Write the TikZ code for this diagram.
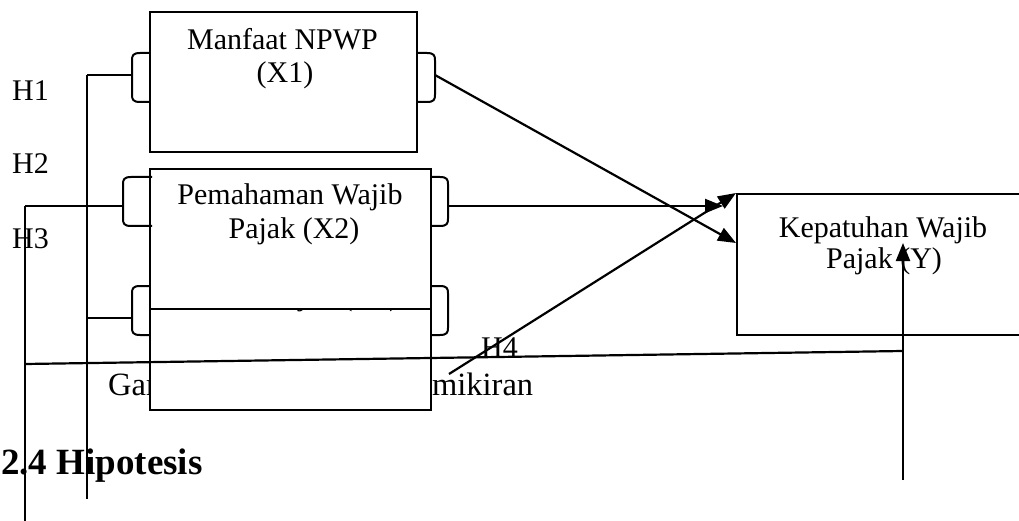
\documentclass[tikz,border=0pt]{standalone}
\usepackage{fontspec}
\setmainfont{Liberation Serif}
\usetikzlibrary{arrows.meta}

\tikzset{
  varbox/.style={draw, fill=white, line width=2.2pt, inner sep=0pt},
  lbl/.style={font=\fontsize{30}{34}\selectfont, inner sep=0pt, anchor=base},
  hlbl/.style={font=\fontsize{30}{34}\selectfont, inner sep=0pt, anchor=base west},
  wire/.style={line width=2.2pt},
  arr/.style={wire, -{Triangle[length=18pt,width=14pt]}},
  pics/cup/.style={code={
    \draw[line width=2pt] (0,-24.5) -- (-#1+8,-24.5)
      .. controls (-#1+1,-24.5) and (-#1,-22) .. (-#1,-17)
      -- (-#1,17) .. controls (-#1,22) and (-#1+1,24.5) .. (-#1+8,24.5) -- (0,24.5);
  }},
}

\begin{document}
\begin{tikzpicture}[x=1pt,y=-1pt]
\useasboundingbox (0,0) rectangle (1019,521);

% caption partly hidden behind the lower box
\node[hlbl, font=\fontsize{32.5}{36}\selectfont] (cap) at (108,395) {\makebox[425pt][s]{Gambar 2.1 Kerangka Pemikiran}};

% variable boxes
\node[varbox, anchor=north west, minimum width=281pt, minimum height=142pt] (x3) at (149,267) {};
\node[lbl] (x3t) at (290,305) {Sanksi Pajak (X3)};

\node[varbox, anchor=north west, minimum width=281pt, minimum height=140pt] (x2) at (149,168) {};
\node[lbl] (x2a) at (290,205) {Pemahaman Wajib};
\node[lbl] (x2b) at (294,239) {Pajak (X2)};

\node[varbox, anchor=north west, minimum width=267pt, minimum height=140pt] (x1) at (149,11) {};
\node[lbl] (x1a) at (282.5,50) {Manfaat NPWP};
\node[lbl] (x1b) at (285,83) {(X1)};

\node[varbox, anchor=north west, minimum width=320pt, minimum height=141pt] (yv) at (736,193) {};
\node[lbl] (ya) at (883,237) {Kepatuhan Wajib};
\node[lbl] (yb) at (884,269) {Pajak (Y)};

% connector cups on the box sides
\pic at (149,77.5) {cup=17};
\pic[xscale=-1] at (416,77.5) {cup=19};
\pic at (152,201.5) {cup=29};
\pic[xscale=-1] at (430,201.5) {cup=18};
\pic at (150,310.5) {cup=18};
\pic[xscale=-1] at (430,310.5) {cup=18};

% ports and line ends
\coordinate (x1L) at (132,75);
\coordinate (x1R) at (435,75);
\coordinate (x2L) at (123,206);
\coordinate (x2R) at (448,206);
\coordinate (x3L) at (132,318);
\coordinate (busA) at (87,75);
\coordinate (busAend) at (87,499);
\coordinate (busA3) at (87,318);
\coordinate (busB) at (25,206);
\coordinate (busBend) at (25,521);
\coordinate (busB4) at (25,364);
\coordinate (h4s) at (449,374);
\coordinate (yin1) at (736,243);
\coordinate (yin2) at (723,206);
\coordinate (upS) at (903,480);
\coordinate (upM) at (903,351);
\coordinate (upT) at (903,243);

% left collector lines
\draw[wire] (busA) -- (busAend);
\draw[wire] (busA) -- (x1L);
\draw[wire] (busA3) -- (x3L);
\draw[wire] (busB) -- (busBend);
\draw[wire] (busB) -- (x2L);
\draw[wire] (busB4) -- (upM);

% paths into the dependent variable
\draw[arr] (x1R) -- (yin1);
\draw[arr] (x2R) -- (yin2);
\draw[arr] (h4s) -- (yv.north west);
\draw[arr] (upS) -- (upT);

% hypothesis labels
\node[hlbl] (h1) at (12,101) {H1};
\node[hlbl] (h2) at (12,174) {H2};
\node[hlbl] (h3) at (12,248) {H3};
\node[hlbl] (h4) at (481,357) {H4};

\node[font=\bfseries\fontsize{37}{42}\selectfont, inner sep=0pt, anchor=base west] (sec) at (1,474) {2.4 Hipotesis};
\end{tikzpicture}
\end{document}
